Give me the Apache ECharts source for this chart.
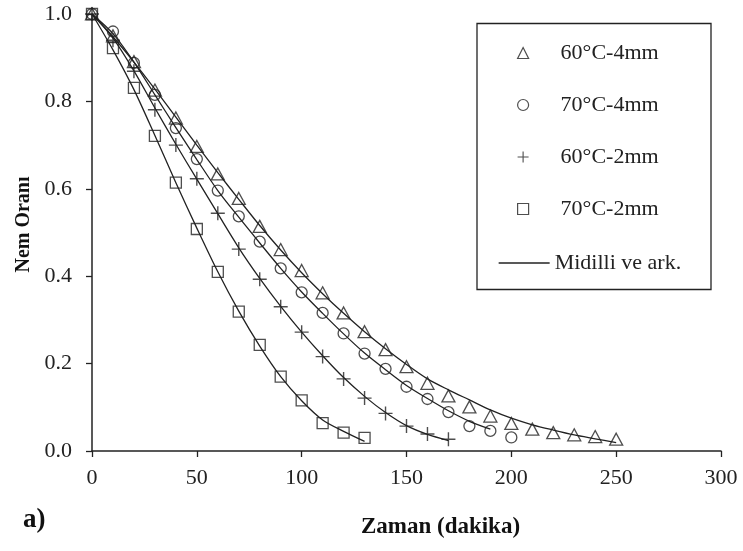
<!DOCTYPE html>
<html>
<head>
<meta charset="utf-8">
<script src="https://cdn.jsdelivr.net/npm/echarts@6/dist/echarts.min.js"></script>
<style>html,body{margin:0;padding:0;background:#fff;}#c{width:743px;height:551px;}</style>
</head>
<body>
<div id="c"></div>
<script>
// ---- data ----
var tTri = [0,10,20,30,40,50,60,70,80,90,100,110,120,130,140,150,160,170,180,190,200,210,220,230,240,250];
var vTri = [1.0,0.95,0.891,0.826,0.762,0.697,0.634,0.578,0.514,0.461,0.413,0.362,0.316,0.273,0.232,0.193,0.155,0.126,0.101,0.080,0.063,0.050,0.042,0.037,0.033,0.027];
var fitTri = [1.0,0.948,0.89,0.828,0.764,0.70,0.637,0.576,0.516,0.46,0.408,0.36,0.315,0.273,0.234,0.198,0.165,0.14,0.117,0.094,0.075,0.06,0.048,0.037,0.028,0.019];

var tCirc = [0,10,20,30,40,50,60,70,80,90,100,110,120,130,140,150,160,170,180,190,200];
var vCirc = [1.0,0.96,0.888,0.815,0.739,0.668,0.596,0.537,0.479,0.418,0.363,0.316,0.269,0.223,0.188,0.147,0.119,0.089,0.057,0.046,0.031];
var tCircFit = [0,10,20,30,40,50,60,70,80,90,100,110,120,130,140,150,160,170,180,190];
var fitCirc = [1.0,0.955,0.89,0.815,0.74,0.667,0.596,0.535,0.476,0.418,0.364,0.315,0.268,0.224,0.186,0.15,0.12,0.092,0.068,0.05];

var tPlus = [0,10,20,30,40,50,60,70,80,90,100,110,120,130,140,150,160,170];
var vPlus = [1.0,0.94,0.869,0.781,0.70,0.623,0.544,0.462,0.393,0.33,0.272,0.216,0.165,0.121,0.086,0.057,0.039,0.027];
var fitPlus = [1.0,0.945,0.87,0.785,0.702,0.622,0.543,0.465,0.395,0.331,0.272,0.218,0.168,0.125,0.088,0.058,0.038,0.024];

var tSq = [0,10,20,30,40,50,60,70,80,90,100,110,120,130];
var vSq = [1.0,0.922,0.831,0.721,0.614,0.508,0.41,0.319,0.243,0.17,0.116,0.064,0.042,0.03];
var fitSq = [1.0,0.918,0.827,0.722,0.614,0.51,0.41,0.32,0.24,0.17,0.115,0.071,0.045,0.022];

var seriesNames = ['60°C-4mm','70°C-4mm','60°C-2mm','70°C-2mm'];
var fitName = 'Midilli ve ark.';
var xTicks = [0,300,50];
var yTicks = [0,1,0.2];

function pairs(t, v){ return t.map(function(x,i){ return [x, v[i]]; }); }

var FONT = '"Liberation Serif","Times New Roman",serif';
var INK = '#222';
var markerStyle = { color: 'transparent', borderColor: INK, borderWidth: 1.3 };
var plusPath = 'path://M6.3,0h1.4v14h-1.4z M0,6.3h14v1.4h-14z';

function fitSeries(t, v){
  return { type: 'line', name: fitName, data: pairs(t, v), smooth: 0.3, symbol: 'none',
           lineStyle: { color: INK, width: 1.3 }, itemStyle: { color: INK }, z: 1, silent: true };
}

var chart = echarts.init(document.getElementById('c'), null, { renderer: 'canvas' });
chart.setOption({
  animation: false,
  backgroundColor: '#fff',
  textStyle: { fontFamily: FONT },
  title: { text: 'a)', left: 18, top: 502, textStyle: { fontFamily: FONT, fontSize: 27, fontWeight: 'bold', color: '#111' } },
  grid: { left: 92, right: 22, top: 14, bottom: 100, containLabel: false, outerBoundsMode: 'none' },
  xAxis: {
    type: 'value', min: xTicks[0], max: xTicks[1], interval: xTicks[2],
    name: 'Zaman (dakika)', nameLocation: 'middle', nameGap: 65,
    nameTextStyle: { fontFamily: FONT, fontSize: 23, fontWeight: 'bold', color: '#111', padding: [0,0,0,68] },
    axisLine: { lineStyle: { color: INK, width: 1.5 } },
    axisTick: { show: true, inside: false, length: 6, lineStyle: { color: INK, width: 1.3 } },
    axisLabel: { fontFamily: FONT, fontSize: 22, color: '#222', margin: 16 },
    splitLine: { show: false }
  },
  yAxis: {
    type: 'value', min: yTicks[0], max: yTicks[1], interval: yTicks[2],
    name: 'Nem Oranı', nameLocation: 'middle', nameGap: 58, nameRotate: 90,
    nameTextStyle: { fontFamily: FONT, fontSize: 20, fontWeight: 'bold', color: '#111', padding: [0,0,0,16] },
    axisLine: { show: true, lineStyle: { color: INK, width: 1.5 } },
    axisTick: { show: true, inside: false, length: 6, lineStyle: { color: INK, width: 1.3 } },
    axisLabel: { fontFamily: FONT, fontSize: 22, color: '#222', margin: 20, formatter: function(v){ return v.toFixed(1); } },
    splitLine: { show: false }
  },
  legend: [
    {
      data: seriesNames, orient: 'vertical', left: 512, top: 37,
      itemWidth: 11, itemHeight: 11, itemGap: 30,
      textStyle: { fontFamily: FONT, fontSize: 22, color: '#222', lineHeight: 22, padding: [0,0,0,27] },
      itemStyle: { borderWidth: 1.2 }
    },
    {
      data: [fitName], orient: 'vertical', left: 493, top: 247,
      itemWidth: 51, itemHeight: 14,
      itemStyle: { color: 'transparent', borderWidth: 0 },
      lineStyle: { color: INK, width: 1.3 },
      textStyle: { fontFamily: FONT, fontSize: 22, color: '#222', lineHeight: 22 }
    }
  ],
  graphic: [
    { type: 'rect', shape: { x: 477, y: 23.5, width: 234, height: 266 }, style: { fill: 'none', stroke: INK, lineWidth: 1.3 }, silent: true }
  ],
  series: [
    { type: 'scatter', name: seriesNames[0], data: pairs(tTri, vTri), symbol: 'triangle', symbolSize: [13, 12], itemStyle: markerStyle, z: 3 },
    { type: 'scatter', name: seriesNames[1], data: pairs(tCirc, vCirc), symbol: 'circle', symbolSize: 11, itemStyle: markerStyle, z: 3 },
    { type: 'scatter', name: seriesNames[2], data: pairs(tPlus, vPlus), symbol: plusPath, symbolSize: 14, itemStyle: { color: INK }, z: 3 },
    { type: 'scatter', name: seriesNames[3], data: pairs(tSq, vSq), symbol: 'rect', symbolSize: 11, itemStyle: markerStyle, z: 3 },
    fitSeries(tTri, fitTri),
    fitSeries(tCircFit, fitCirc),
    fitSeries(tPlus, fitPlus),
    fitSeries(tSq, fitSq)
  ]
});
</script>
</body>
</html>
